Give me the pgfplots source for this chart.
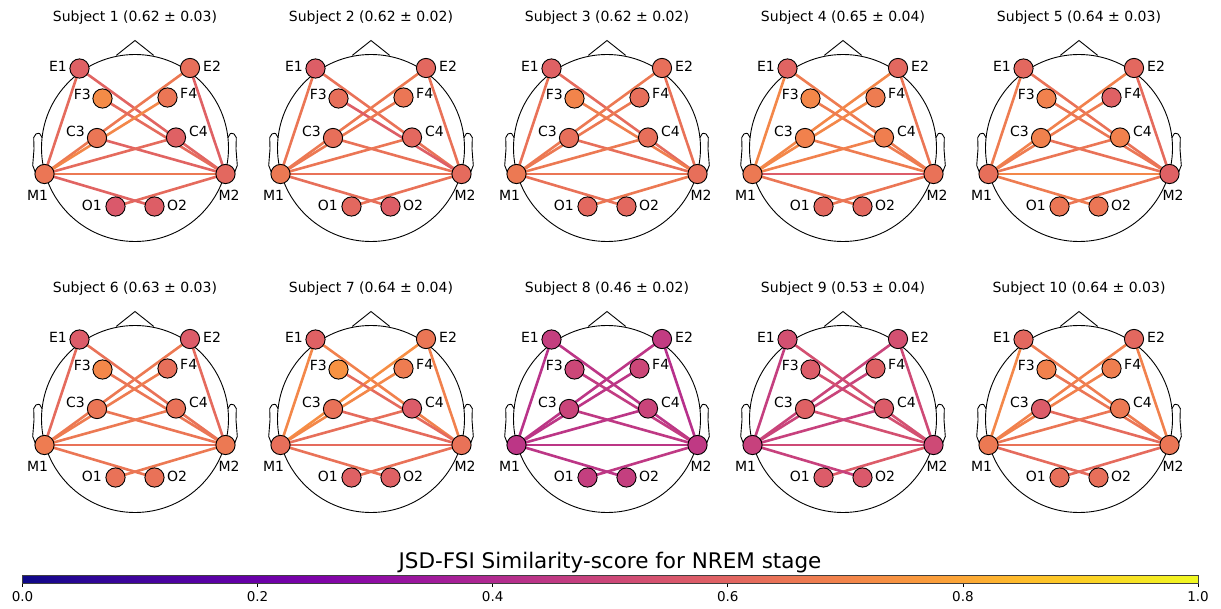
\documentclass[border=0pt]{standalone}
\usepackage{fontspec}
\setmainfont{DejaVu Sans}
\usepackage{pgfplots}
\pgfplotsset{compat=1.18}
\pgfplotsset{
  colormap={plasma}{rgb255(0cm)=(13,8,135) rgb255(1cm)=(42,6,149) rgb255(2cm)=(65,4,157) rgb255(3cm)=(86,1,164) rgb255(4cm)=(106,0,168) rgb255(5cm)=(126,3,168) rgb255(6cm)=(143,13,164) rgb255(7cm)=(161,27,155) rgb255(8cm)=(177,42,144) rgb255(9cm)=(191,57,132) rgb255(10cm)=(204,71,120) rgb255(11cm)=(216,86,109) rgb255(12cm)=(225,100,98) rgb255(13cm)=(235,118,85) rgb255(14cm)=(242,132,75) rgb255(15cm)=(248,149,64) rgb255(16cm)=(252,166,54) rgb255(17cm)=(254,188,43) rgb255(18cm)=(252,206,37) rgb255(19cm)=(246,228,36) rgb255(20cm)=(240,249,33)},
  panel/.style={x=1pt, y=1pt, y dir=reverse, xmin=-120, xmax=120, ymin=-120, ymax=120,
    anchor=center, hide axis, clip=false, point meta min=0, point meta max=1, colormap name=plasma},
  nodestyle/.style={scatter, only marks, mark=*, mark size=9.6pt, point meta=explicit,
    scatter/use mapped color={draw=black, fill=mapped color}, mark options={line width=0.9pt}, forget plot},
}
\newcommand\ttlfont{\fontsize{14}{16}\selectfont}
\newcommand\lblfont{\fontsize{14}{16}\selectfont}
\newcommand\setpos[3]{\expandafter\def\csname px#1\endcsname{#2}\expandafter\def\csname py#1\endcsname{#3}}
\setpos{E1}{-55.5}{-79.5}
\setpos{E2}{55}{-80}
\setpos{F3}{-32.5}{-49.5}
\setpos{F4}{32.5}{-50.5}
\setpos{C3}{-38}{-10}
\setpos{C4}{41}{-10.5}
\setpos{M1}{-90.5}{26}
\setpos{M2}{90.5}{26}
\setpos{O1}{-19.5}{58.5}
\setpos{O2}{19.5}{58.5}
\newcommand\edge[3]{\edef\edgetmp{\noexpand\addplot[mesh, line width=2.6pt, point meta=explicit, forget plot] coordinates {(\csname px#1\endcsname,\csname py#1\endcsname) [#3] (\csname px#2\endcsname,\csname py#2\endcsname) [#3]};}\edgetmp}
\newcommand\headoutline[1]{%
  \draw[line width=0.9pt] (axis cs:0,0) circle[radius=93.5pt];
  \addplot[black, line width=0.9pt, forget plot] coordinates {(-18.7,-92.6) (0,-107.5) (18.7,-92.6)};
  \addplot[black, line width=0.9pt, forget plot] coordinates {(92.9,-10.4) (95.4,-14.5) (96.9,-14.6) (99.1,-14) (101.3,-10.4) (101,1) (102.3,17.4) (99.5,24.6) (95.4,25.9) (91.4,22.4)};
  \addplot[black, line width=0.9pt, forget plot] coordinates {(-92.9,-10.4) (-95.4,-14.5) (-96.9,-14.6) (-99.1,-14) (-101.3,-10.4) (-101,1) (-102.3,17.4) (-99.5,24.6) (-95.4,25.9) (-91.4,22.4)};
  \node[font=\ttlfont] at (axis cs:0,-130) {#1};
}
\newcommand\headlabels{%
  \node[anchor=east, inner sep=0pt, font=\lblfont] at (axis cs:-68,-82) {E1};
  \node[anchor=west, inner sep=0pt, font=\lblfont] at (axis cs:68,-82) {E2};
  \node[anchor=east, inner sep=0pt, font=\lblfont] at (axis cs:-44,-53.5) {F3};
  \node[anchor=west, inner sep=0pt, font=\lblfont] at (axis cs:45,-54.5) {F4};
  \node[anchor=east, inner sep=0pt, font=\lblfont] at (axis cs:-50,-17) {C3};
  \node[anchor=west, inner sep=0pt, font=\lblfont] at (axis cs:54,-17) {C4};
  \node[inner sep=0pt, font=\lblfont] at (axis cs:-97.5,47) {M1};
  \node[inner sep=0pt, font=\lblfont] at (axis cs:94,47) {M2};
  \node[anchor=east, inner sep=0pt, font=\lblfont] at (axis cs:-33,57) {O1};
  \node[anchor=west, inner sep=0pt, font=\lblfont] at (axis cs:32,57) {O2};
}
\begin{document}
\begin{tikzpicture}
% ---------- Subject 1
\begin{axis}[panel, at={(135pt,460pt)}]
\headoutline{Subject 1 (0.62 ± 0.03)}
\edge{E1}{M1}{0.62}\edge{E1}{M2}{0.60}\edge{E2}{M1}{0.66}\edge{E2}{M2}{0.59}
\edge{F3}{M2}{0.62}\edge{F4}{M1}{0.71}\edge{C3}{M2}{0.60}\edge{C4}{M1}{0.62}
\edge{O1}{M2}{0.62}\edge{O2}{M1}{0.60}\edge{M1}{M2}{0.66}
\addplot[nodestyle] coordinates {(-55.5,-79.5)[0.59] (55,-80)[0.63] (-32.5,-49.5)[0.72] (32.5,-50.5)[0.65] (-38,-10)[0.65] (41,-10.5)[0.59] (-90.5,26)[0.65] (90.5,26)[0.61] (-19.5,58.5)[0.56] (19.5,58.5)[0.58]};
\headlabels
\end{axis}
% ---------- Subject 2
\begin{axis}[panel, at={(371pt,460pt)}]
\headoutline{Subject 2 (0.62 ± 0.02)}
\edge{E1}{M1}{0.65}\edge{E1}{M2}{0.64}\edge{E2}{M1}{0.66}\edge{E2}{M2}{0.64}
\edge{F3}{M2}{0.58}\edge{F4}{M1}{0.66}\edge{C3}{M2}{0.64}\edge{C4}{M1}{0.65}
\edge{O1}{M2}{0.64}\edge{O2}{M1}{0.63}\edge{M1}{M2}{0.64}
\addplot[nodestyle] coordinates {(-55.5,-79.5)[0.58] (55,-80)[0.61] (-32.5,-49.5)[0.63] (32.5,-50.5)[0.65] (-38,-10)[0.63] (41,-10.5)[0.61] (-90.5,26)[0.66] (90.5,26)[0.62] (-19.5,58.5)[0.61] (19.5,58.5)[0.58]};
\headlabels
\end{axis}
% ---------- Subject 3
\begin{axis}[panel, at={(607pt,460pt)}]
\headoutline{Subject 3 (0.62 ± 0.02)}
\edge{E1}{M1}{0.64}\edge{E1}{M2}{0.62}\edge{E2}{M1}{0.66}\edge{E2}{M2}{0.64}
\edge{F3}{M2}{0.68}\edge{F4}{M1}{0.66}\edge{C3}{M2}{0.63}\edge{C4}{M1}{0.66}
\edge{O1}{M2}{0.66}\edge{O2}{M1}{0.64}\edge{M1}{M2}{0.65}
\addplot[nodestyle] coordinates {(-55.5,-79.5)[0.59] (55,-80)[0.63] (-32.5,-49.5)[0.70] (32.5,-50.5)[0.63] (-38,-10)[0.63] (41,-10.5)[0.63] (-90.5,26)[0.66] (90.5,26)[0.63] (-19.5,58.5)[0.61] (19.5,58.5)[0.61]};
\headlabels
\end{axis}
% ---------- Subject 4
\begin{axis}[panel, at={(843pt,460pt)}]
\headoutline{Subject 4 (0.65 ± 0.04)}
\edge{E1}{M1}{0.71}\edge{E1}{M2}{0.67}\edge{E2}{M1}{0.71}\edge{E2}{M2}{0.65}
\edge{F3}{M2}{0.67}\edge{F4}{M1}{0.71}\edge{C3}{M2}{0.67}\edge{C4}{M1}{0.69}
\edge{O1}{M2}{0.65}\edge{O2}{M1}{0.65}\edge{M1}{M2}{0.57}
\addplot[nodestyle] coordinates {(-55.5,-79.5)[0.60] (55,-80)[0.61] (-32.5,-49.5)[0.71] (32.5,-50.5)[0.67] (-38,-10)[0.69] (41,-10.5)[0.68] (-90.5,26)[0.66] (90.5,26)[0.64] (-19.5,58.5)[0.61] (19.5,58.5)[0.61]};
\headlabels
\end{axis}
% ---------- Subject 5
\begin{axis}[panel, at={(1079pt,460pt)}]
\headoutline{Subject 5 (0.64 ± 0.03)}
\edge{E1}{M1}{0.67}\edge{E1}{M2}{0.64}\edge{E2}{M1}{0.69}\edge{E2}{M2}{0.62}
\edge{F3}{M2}{0.65}\edge{F4}{M1}{0.67}\edge{C3}{M2}{0.64}\edge{C4}{M1}{0.65}
\edge{O1}{M2}{0.65}\edge{O2}{M1}{0.67}\edge{M1}{M2}{0.71}
\addplot[nodestyle] coordinates {(-55.5,-79.5)[0.61] (55,-80)[0.61] (-32.5,-49.5)[0.69] (32.5,-50.5)[0.59] (-38,-10)[0.69] (41,-10.5)[0.69] (-90.5,26)[0.63] (90.5,26)[0.59] (-19.5,58.5)[0.65] (19.5,58.5)[0.65]};
\headlabels
\end{axis}
% ---------- Subject 6
\begin{axis}[panel, at={(135pt,189pt)}]
\headoutline{Subject 6 (0.63 ± 0.03)}
\edge{E1}{M1}{0.62}\edge{E1}{M2}{0.64}\edge{E2}{M1}{0.66}\edge{E2}{M2}{0.62}
\edge{F3}{M2}{0.65}\edge{F4}{M1}{0.67}\edge{C3}{M2}{0.65}\edge{C4}{M1}{0.66}
\edge{O1}{M2}{0.66}\edge{O2}{M1}{0.65}\edge{M1}{M2}{0.64}
\addplot[nodestyle] coordinates {(-55.5,-79.5)[0.57] (55,-80)[0.57] (-32.5,-49.5)[0.71] (32.5,-50.5)[0.63] (-38,-10)[0.65] (41,-10.5)[0.64] (-90.5,26)[0.67] (90.5,26)[0.66] (-19.5,58.5)[0.64] (19.5,58.5)[0.64]};
\headlabels
\end{axis}
% ---------- Subject 7
\begin{axis}[panel, at={(371pt,189pt)}]
\headoutline{Subject 7 (0.64 ± 0.04)}
\edge{E1}{M1}{0.71}\edge{E1}{M2}{0.69}\edge{E2}{M1}{0.73}\edge{E2}{M2}{0.69}
\edge{F3}{M2}{0.62}\edge{F4}{M1}{0.71}\edge{C3}{M2}{0.62}\edge{C4}{M1}{0.63}
\edge{O1}{M2}{0.64}\edge{O2}{M1}{0.64}\edge{M1}{M2}{0.62}
\addplot[nodestyle] coordinates {(-55.5,-79.5)[0.59] (55,-80)[0.65] (-32.5,-49.5)[0.74] (32.5,-50.5)[0.67] (-38,-10)[0.64] (41,-10.5)[0.57] (-90.5,26)[0.63] (90.5,26)[0.64] (-19.5,58.5)[0.59] (19.5,58.5)[0.59]};
\headlabels
\end{axis}
% ---------- Subject 8
\begin{axis}[panel, at={(607pt,189pt)}]
\headoutline{Subject 8 (0.46 ± 0.02)}
\edge{E1}{M1}{0.43}\edge{E1}{M2}{0.44}\edge{E2}{M1}{0.44}\edge{E2}{M2}{0.42}
\edge{F3}{M2}{0.46}\edge{F4}{M1}{0.44}\edge{C3}{M2}{0.45}\edge{C4}{M1}{0.44}
\edge{O1}{M2}{0.45}\edge{O2}{M1}{0.44}\edge{M1}{M2}{0.44}
\addplot[nodestyle] coordinates {(-55.5,-79.5)[0.47] (55,-80)[0.46] (-32.5,-49.5)[0.50] (32.5,-50.5)[0.50] (-38,-10)[0.49] (41,-10.5)[0.49] (-90.5,26)[0.44] (90.5,26)[0.45] (-19.5,58.5)[0.47] (19.5,58.5)[0.47]};
\headlabels
\end{axis}
% ---------- Subject 9
\begin{axis}[panel, at={(843pt,189pt)}]
\headoutline{Subject 9 (0.53 ± 0.04)}
\edge{E1}{M1}{0.47}\edge{E1}{M2}{0.53}\edge{E2}{M1}{0.49}\edge{E2}{M2}{0.51}
\edge{F3}{M2}{0.53}\edge{F4}{M1}{0.49}\edge{C3}{M2}{0.53}\edge{C4}{M1}{0.48}
\edge{O1}{M2}{0.57}\edge{O2}{M1}{0.48}\edge{M1}{M2}{0.51}
\addplot[nodestyle] coordinates {(-55.5,-79.5)[0.53] (55,-80)[0.53] (-32.5,-49.5)[0.57] (32.5,-50.5)[0.59] (-38,-10)[0.59] (41,-10.5)[0.57] (-90.5,26)[0.48] (90.5,26)[0.51] (-19.5,58.5)[0.57] (19.5,58.5)[0.56]};
\headlabels
\end{axis}
% ---------- Subject 10
\begin{axis}[panel, at={(1079pt,189pt)}]
\headoutline{Subject 10 (0.64 ± 0.03)}
\edge{E1}{M1}{0.71}\edge{E1}{M2}{0.67}\edge{E2}{M1}{0.69}\edge{E2}{M2}{0.69}
\edge{F3}{M2}{0.65}\edge{F4}{M1}{0.69}\edge{C3}{M2}{0.62}\edge{C4}{M1}{0.65}
\edge{O1}{M2}{0.62}\edge{O2}{M1}{0.62}\edge{M1}{M2}{0.64}
\addplot[nodestyle] coordinates {(-55.5,-79.5)[0.61] (55,-80)[0.61] (-32.5,-49.5)[0.69] (32.5,-50.5)[0.68] (-38,-10)[0.57] (41,-10.5)[0.66] (-90.5,26)[0.66] (90.5,26)[0.65] (-19.5,58.5)[0.63] (19.5,58.5)[0.63]};
\headlabels
\end{axis}
% ---------- colorbar
\begin{axis}[at={(22.5pt,33pt)}, anchor=south west, scale only axis, width=1175.5pt, height=8pt,
  xmin=0, xmax=1, ymin=0, ymax=1, hide axis, point meta min=0, point meta max=1, colormap name=plasma,
  colorbar horizontal,
  colorbar style={at={(parent axis.north west)}, anchor=north west, scale only axis, width=1175.5pt, height=8pt,
    xtick={0,0.2,0.4,0.6,0.8,1},
    xticklabel style={font=\fontsize{13.5}{16}\selectfont, yshift=-1pt, /pgf/number format/.cd, fixed, fixed zerofill, precision=1, assume math mode=true},
    xtick pos=bottom, xticklabel pos=bottom, tick align=outside, major tick length=3.5pt, tick style={black, line width=0.8pt},
    axis line style={black!75, line width=0.8pt}}]
\addplot[draw=none, forget plot] coordinates {(0,0)};
\end{axis}
\node[anchor=base, font=\fontsize{21.5}{24}\selectfont] at (610pt,40pt) {JSD-FSI Similarity-score for NREM stage};
\pgfresetboundingbox
\path (0,0) rectangle (1221pt,608pt);
\end{tikzpicture}
\end{document}
